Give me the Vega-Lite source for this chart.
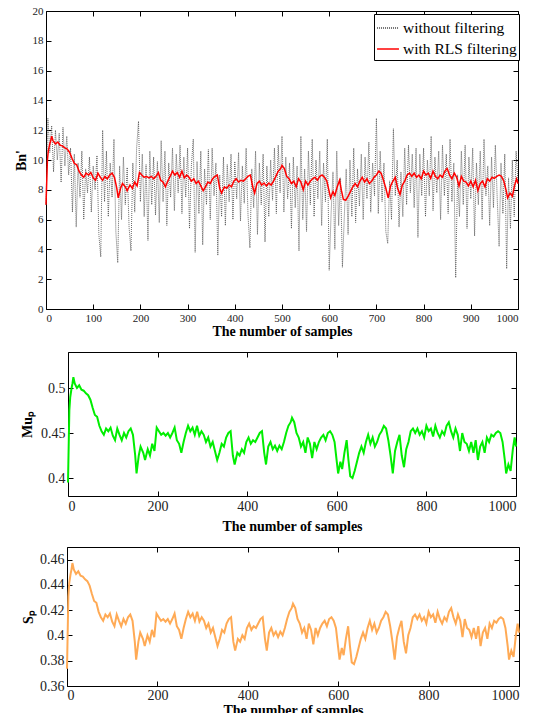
{
  "$schema": "https://vega.github.io/schema/vega-lite/v6.json",
  "background": "white",
  "padding": {"left": 13, "top": 4, "right": 4, "bottom": 0},
  "config": {
    "font": "Liberation Serif, Times New Roman, serif",
    "view": {"stroke": "black", "strokeWidth": 1},
    "axis": {"grid": false, "domain": false, "tickColor": "black", "tickSize": -5, "labelPadding": 8, "labelColor": "#222", "labelFont": "Liberation Serif, Times New Roman, serif", "titleFont": "Liberation Serif, Times New Roman, serif", "titleFontWeight": "bold", "titleColor": "black"},
    "legend": {"labelFont": "Liberation Serif, Times New Roman, serif"},
    "line": {"interpolate": "linear"}
  },
  "datasets": {
    "main": [
      {"x":0,"g":0.395,"r":7.0,"o":0.3737},{"x":3,"g":0.475,"r":9.99,"o":0.4309},{"x":5,"g":0.49,"r":10.64,"o":0.4416},{"x":8,"g":0.5,"r":11.08,"o":0.4487},{"x":10,"g":0.505,"r":11.29,"o":0.4523},{"x":12,"g":0.512,"r":11.6,"o":0.4573},{"x":15,"g":0.505,"r":11.29,"o":0.4523},{"x":20,"g":0.5,"r":11.08,"o":0.4487},{"x":25,"g":0.503,"r":11.21,"o":0.4508},{"x":30,"g":0.498,"r":10.99,"o":0.4473},{"x":35,"g":0.497,"r":10.94,"o":0.4466},{"x":40,"g":0.494,"r":10.81,"o":0.4444},{"x":45,"g":0.492,"r":10.73,"o":0.443},{"x":50,"g":0.487,"r":10.51,"o":0.4394},{"x":55,"g":0.478,"r":10.12,"o":0.433},{"x":60,"g":0.47,"r":9.77,"o":0.4273},{"x":65,"g":0.468,"r":9.68,"o":0.4259},{"x":70,"g":0.458,"r":9.25,"o":0.4187},{"x":75,"g":0.452,"r":8.99,"o":0.4144},{"x":80,"g":0.448,"r":8.84,"o":0.4116},{"x":85,"g":0.455,"r":9.12,"o":0.4166},{"x":90,"g":0.452,"r":8.99,"o":0.4144},{"x":95,"g":0.456,"r":9.16,"o":0.4173},{"x":100,"g":0.447,"r":8.8,"o":0.4109},{"x":105,"g":0.442,"r":8.64,"o":0.4073},{"x":110,"g":0.455,"r":9.12,"o":0.4166},{"x":115,"g":0.448,"r":8.84,"o":0.4116},{"x":120,"g":0.442,"r":8.64,"o":0.4073},{"x":125,"g":0.45,"r":8.9,"o":0.413},{"x":130,"g":0.445,"r":8.74,"o":0.4094},{"x":135,"g":0.452,"r":8.99,"o":0.4144},{"x":140,"g":0.455,"r":9.12,"o":0.4166},{"x":145,"g":0.448,"r":8.84,"o":0.4116},{"x":150,"g":0.425,"r":8.1,"o":0.3951},{"x":153,"g":0.405,"r":7.46,"o":0.3809},{"x":158,"g":0.425,"r":8.1,"o":0.3951},{"x":162,"g":0.435,"r":8.42,"o":0.4023},{"x":168,"g":0.428,"r":8.2,"o":0.3973},{"x":172,"g":0.42,"r":7.94,"o":0.3916},{"x":178,"g":0.432,"r":8.32,"o":0.4001},{"x":183,"g":0.425,"r":8.1,"o":0.3951},{"x":188,"g":0.438,"r":8.52,"o":0.4044},{"x":193,"g":0.43,"r":8.26,"o":0.3987},{"x":198,"g":0.456,"r":9.16,"o":0.4173},{"x":203,"g":0.452,"r":8.99,"o":0.4144},{"x":208,"g":0.448,"r":8.84,"o":0.4116},{"x":213,"g":0.45,"r":8.9,"o":0.413},{"x":218,"g":0.447,"r":8.8,"o":0.4109},{"x":223,"g":0.45,"r":8.9,"o":0.413},{"x":228,"g":0.445,"r":8.74,"o":0.4094},{"x":233,"g":0.45,"r":8.9,"o":0.413},{"x":238,"g":0.456,"r":9.16,"o":0.4173},{"x":243,"g":0.442,"r":8.64,"o":0.4073},{"x":248,"g":0.438,"r":8.52,"o":0.4044},{"x":253,"g":0.428,"r":8.2,"o":0.3973},{"x":258,"g":0.44,"r":8.58,"o":0.4059},{"x":263,"g":0.45,"r":8.9,"o":0.413},{"x":268,"g":0.458,"r":9.25,"o":0.4187},{"x":273,"g":0.452,"r":8.99,"o":0.4144},{"x":278,"g":0.456,"r":9.16,"o":0.4173},{"x":283,"g":0.448,"r":8.84,"o":0.4116},{"x":288,"g":0.458,"r":9.25,"o":0.4187},{"x":293,"g":0.447,"r":8.8,"o":0.4109},{"x":298,"g":0.452,"r":8.99,"o":0.4144},{"x":303,"g":0.448,"r":8.84,"o":0.4116},{"x":308,"g":0.44,"r":8.58,"o":0.4059},{"x":313,"g":0.445,"r":8.74,"o":0.4094},{"x":318,"g":0.435,"r":8.42,"o":0.4023},{"x":323,"g":0.44,"r":8.58,"o":0.4059},{"x":328,"g":0.43,"r":8.26,"o":0.3987},{"x":333,"g":0.42,"r":7.94,"o":0.3916},{"x":338,"g":0.428,"r":8.2,"o":0.3973},{"x":343,"g":0.438,"r":8.52,"o":0.4044},{"x":348,"g":0.435,"r":8.42,"o":0.4023},{"x":353,"g":0.445,"r":8.74,"o":0.4094},{"x":358,"g":0.45,"r":8.9,"o":0.413},{"x":363,"g":0.452,"r":8.99,"o":0.4144},{"x":368,"g":0.425,"r":8.1,"o":0.3951},{"x":372,"g":0.415,"r":7.78,"o":0.388},{"x":378,"g":0.428,"r":8.2,"o":0.3973},{"x":383,"g":0.425,"r":8.1,"o":0.3951},{"x":388,"g":0.432,"r":8.32,"o":0.4001},{"x":393,"g":0.428,"r":8.2,"o":0.3973},{"x":398,"g":0.44,"r":8.58,"o":0.4059},{"x":403,"g":0.445,"r":8.74,"o":0.4094},{"x":408,"g":0.438,"r":8.52,"o":0.4044},{"x":413,"g":0.442,"r":8.64,"o":0.4073},{"x":418,"g":0.44,"r":8.58,"o":0.4059},{"x":423,"g":0.445,"r":8.74,"o":0.4094},{"x":428,"g":0.45,"r":8.9,"o":0.413},{"x":433,"g":0.452,"r":8.99,"o":0.4144},{"x":438,"g":0.428,"r":8.2,"o":0.3973},{"x":442,"g":0.415,"r":7.78,"o":0.388},{"x":447,"g":0.435,"r":8.42,"o":0.4023},{"x":452,"g":0.44,"r":8.58,"o":0.4059},{"x":457,"g":0.432,"r":8.32,"o":0.4001},{"x":462,"g":0.436,"r":8.45,"o":0.403},{"x":467,"g":0.43,"r":8.26,"o":0.3987},{"x":472,"g":0.436,"r":8.45,"o":0.403},{"x":477,"g":0.432,"r":8.32,"o":0.4001},{"x":482,"g":0.44,"r":8.58,"o":0.4059},{"x":487,"g":0.45,"r":8.9,"o":0.413},{"x":492,"g":0.458,"r":9.25,"o":0.4187},{"x":497,"g":0.462,"r":9.42,"o":0.4216},{"x":500,"g":0.467,"r":9.64,"o":0.4251},{"x":505,"g":0.462,"r":9.42,"o":0.4216},{"x":510,"g":0.45,"r":8.9,"o":0.413},{"x":515,"g":0.445,"r":8.74,"o":0.4094},{"x":520,"g":0.435,"r":8.42,"o":0.4023},{"x":525,"g":0.44,"r":8.58,"o":0.4059},{"x":530,"g":0.428,"r":8.2,"o":0.3973},{"x":535,"g":0.445,"r":8.74,"o":0.4094},{"x":540,"g":0.438,"r":8.52,"o":0.4044},{"x":545,"g":0.422,"r":8.0,"o":0.393},{"x":550,"g":0.44,"r":8.58,"o":0.4059},{"x":555,"g":0.432,"r":8.32,"o":0.4001},{"x":560,"g":0.44,"r":8.58,"o":0.4059},{"x":565,"g":0.445,"r":8.74,"o":0.4094},{"x":570,"g":0.448,"r":8.84,"o":0.4116},{"x":575,"g":0.442,"r":8.64,"o":0.4073},{"x":580,"g":0.45,"r":8.9,"o":0.413},{"x":585,"g":0.452,"r":8.99,"o":0.4144},{"x":590,"g":0.448,"r":8.84,"o":0.4116},{"x":595,"g":0.44,"r":8.58,"o":0.4059},{"x":600,"g":0.418,"r":7.88,"o":0.3901},{"x":603,"g":0.405,"r":7.46,"o":0.3809},{"x":608,"g":0.418,"r":7.88,"o":0.3901},{"x":612,"g":0.41,"r":7.62,"o":0.3844},{"x":617,"g":0.428,"r":8.2,"o":0.3973},{"x":622,"g":0.442,"r":8.64,"o":0.4073},{"x":626,"g":0.42,"r":7.94,"o":0.3916},{"x":630,"g":0.402,"r":7.36,"o":0.3787},{"x":635,"g":0.4,"r":7.3,"o":0.3773},{"x":640,"g":0.408,"r":7.56,"o":0.383},{"x":645,"g":0.418,"r":7.88,"o":0.3901},{"x":650,"g":0.428,"r":8.2,"o":0.3973},{"x":655,"g":0.435,"r":8.42,"o":0.4023},{"x":660,"g":0.428,"r":8.2,"o":0.3973},{"x":665,"g":0.44,"r":8.58,"o":0.4059},{"x":670,"g":0.448,"r":8.84,"o":0.4116},{"x":675,"g":0.438,"r":8.52,"o":0.4044},{"x":680,"g":0.445,"r":8.74,"o":0.4094},{"x":685,"g":0.435,"r":8.42,"o":0.4023},{"x":690,"g":0.44,"r":8.58,"o":0.4059},{"x":695,"g":0.448,"r":8.84,"o":0.4116},{"x":700,"g":0.452,"r":8.99,"o":0.4144},{"x":705,"g":0.458,"r":9.25,"o":0.4187},{"x":710,"g":0.455,"r":9.12,"o":0.4166},{"x":715,"g":0.442,"r":8.64,"o":0.4073},{"x":720,"g":0.425,"r":8.1,"o":0.3951},{"x":725,"g":0.405,"r":7.46,"o":0.3809},{"x":730,"g":0.43,"r":8.26,"o":0.3987},{"x":735,"g":0.44,"r":8.58,"o":0.4059},{"x":740,"g":0.448,"r":8.84,"o":0.4116},{"x":745,"g":0.425,"r":8.1,"o":0.3951},{"x":750,"g":0.412,"r":7.68,"o":0.3859},{"x":755,"g":0.432,"r":8.32,"o":0.4001},{"x":760,"g":0.44,"r":8.58,"o":0.4059},{"x":765,"g":0.452,"r":8.99,"o":0.4144},{"x":770,"g":0.455,"r":9.12,"o":0.4166},{"x":775,"g":0.45,"r":8.9,"o":0.413},{"x":780,"g":0.455,"r":9.12,"o":0.4166},{"x":785,"g":0.448,"r":8.84,"o":0.4116},{"x":790,"g":0.452,"r":8.99,"o":0.4144},{"x":795,"g":0.445,"r":8.74,"o":0.4094},{"x":800,"g":0.458,"r":9.25,"o":0.4187},{"x":805,"g":0.452,"r":8.99,"o":0.4144},{"x":810,"g":0.455,"r":9.12,"o":0.4166},{"x":815,"g":0.446,"r":8.77,"o":0.4101},{"x":820,"g":0.458,"r":9.25,"o":0.4187},{"x":825,"g":0.45,"r":8.9,"o":0.413},{"x":830,"g":0.445,"r":8.74,"o":0.4094},{"x":835,"g":0.452,"r":8.99,"o":0.4144},{"x":840,"g":0.448,"r":8.84,"o":0.4116},{"x":845,"g":0.458,"r":9.25,"o":0.4187},{"x":850,"g":0.462,"r":9.42,"o":0.4216},{"x":855,"g":0.452,"r":8.99,"o":0.4144},{"x":860,"g":0.445,"r":8.74,"o":0.4094},{"x":865,"g":0.455,"r":9.12,"o":0.4166},{"x":870,"g":0.448,"r":8.84,"o":0.4116},{"x":875,"g":0.43,"r":8.26,"o":0.3987},{"x":880,"g":0.45,"r":8.9,"o":0.413},{"x":885,"g":0.44,"r":8.58,"o":0.4059},{"x":890,"g":0.438,"r":8.52,"o":0.4044},{"x":895,"g":0.43,"r":8.26,"o":0.3987},{"x":900,"g":0.44,"r":8.58,"o":0.4059},{"x":905,"g":0.428,"r":8.2,"o":0.3973},{"x":910,"g":0.442,"r":8.64,"o":0.4073},{"x":915,"g":0.42,"r":7.94,"o":0.3916},{"x":920,"g":0.435,"r":8.42,"o":0.4023},{"x":925,"g":0.44,"r":8.58,"o":0.4059},{"x":930,"g":0.428,"r":8.2,"o":0.3973},{"x":935,"g":0.445,"r":8.74,"o":0.4094},{"x":940,"g":0.44,"r":8.58,"o":0.4059},{"x":945,"g":0.448,"r":8.84,"o":0.4116},{"x":950,"g":0.446,"r":8.77,"o":0.4101},{"x":955,"g":0.45,"r":8.9,"o":0.413},{"x":960,"g":0.452,"r":8.99,"o":0.4144},{"x":965,"g":0.45,"r":8.9,"o":0.413},{"x":970,"g":0.44,"r":8.58,"o":0.4059},{"x":975,"g":0.42,"r":7.94,"o":0.3916},{"x":978,"g":0.405,"r":7.46,"o":0.3809},{"x":983,"g":0.415,"r":7.78,"o":0.388},{"x":988,"g":0.408,"r":7.56,"o":0.383},{"x":993,"g":0.432,"r":8.32,"o":0.4001},{"x":997,"g":0.445,"r":8.74,"o":0.4094},{"x":1000,"g":0.435,"r":8.42,"o":0.4023}
    ],
    "gray": [
      {"x":0,"v":7.0},{"x":4,"v":12.8},{"x":8,"v":10.5},{"x":12,"v":12.3},{"x":16,"v":9.2},{"x":20,"v":12.0},{"x":24,"v":10.0},{"x":28,"v":11.8},{"x":32,"v":8.5},{"x":36,"v":12.2},{"x":40,"v":9.6},{"x":44,"v":11.6},{"x":48,"v":9.0},{"x":52,"v":10.8},{"x":56,"v":6.5},{"x":60,"v":10.4},{"x":64,"v":5.5},{"x":68,"v":9.8},{"x":72,"v":7.5},{"x":76,"v":10.6},{"x":80,"v":6.0},{"x":84,"v":9.4},{"x":88,"v":7.8},{"x":92,"v":10.2},{"x":96,"v":6.5},{"x":100,"v":9.6},{"x":104,"v":8.0},{"x":108,"v":10.3},{"x":112,"v":5.0},{"x":116,"v":3.5},{"x":120,"v":12.0},{"x":124,"v":7.2},{"x":128,"v":10.6},{"x":132,"v":6.2},{"x":136,"v":9.8},{"x":140,"v":7.5},{"x":144,"v":11.4},{"x":148,"v":5.2},{"x":152,"v":3.1},{"x":156,"v":9.6},{"x":160,"v":6.0},{"x":164,"v":10.2},{"x":168,"v":7.0},{"x":172,"v":9.5},{"x":176,"v":5.5},{"x":180,"v":3.9},{"x":184,"v":9.8},{"x":188,"v":6.5},{"x":192,"v":10.8},{"x":196,"v":12.6},{"x":200,"v":7.2},{"x":204,"v":10.4},{"x":208,"v":6.2},{"x":212,"v":9.7},{"x":216,"v":4.6},{"x":220,"v":10.6},{"x":224,"v":7.0},{"x":228,"v":10.2},{"x":232,"v":6.3},{"x":236,"v":9.9},{"x":240,"v":5.8},{"x":244,"v":11.3},{"x":248,"v":7.2},{"x":252,"v":10.6},{"x":256,"v":5.6},{"x":260,"v":9.8},{"x":264,"v":7.5},{"x":268,"v":10.8},{"x":272,"v":6.6},{"x":276,"v":10.4},{"x":280,"v":7.8},{"x":284,"v":11.0},{"x":288,"v":6.4},{"x":292,"v":10.2},{"x":296,"v":7.5},{"x":300,"v":10.8},{"x":304,"v":5.4},{"x":308,"v":9.6},{"x":312,"v":11.4},{"x":316,"v":3.8},{"x":320,"v":9.9},{"x":324,"v":6.4},{"x":328,"v":10.6},{"x":332,"v":4.3},{"x":336,"v":9.4},{"x":340,"v":7.0},{"x":344,"v":10.7},{"x":348,"v":6.0},{"x":352,"v":10.8},{"x":356,"v":7.6},{"x":360,"v":9.8},{"x":364,"v":3.6},{"x":368,"v":9.0},{"x":372,"v":6.2},{"x":376,"v":10.2},{"x":380,"v":5.6},{"x":384,"v":9.7},{"x":388,"v":7.2},{"x":392,"v":10.4},{"x":396,"v":6.0},{"x":400,"v":9.9},{"x":404,"v":7.4},{"x":408,"v":10.5},{"x":412,"v":5.9},{"x":416,"v":9.6},{"x":420,"v":7.1},{"x":424,"v":10.8},{"x":428,"v":6.3},{"x":432,"v":4.1},{"x":436,"v":9.4},{"x":440,"v":6.8},{"x":444,"v":10.6},{"x":448,"v":5.0},{"x":452,"v":9.8},{"x":456,"v":7.0},{"x":460,"v":10.4},{"x":464,"v":4.5},{"x":468,"v":9.6},{"x":472,"v":6.2},{"x":476,"v":10.0},{"x":480,"v":7.3},{"x":484,"v":10.8},{"x":488,"v":6.4},{"x":492,"v":11.0},{"x":496,"v":7.8},{"x":500,"v":11.6},{"x":504,"v":6.5},{"x":508,"v":10.2},{"x":512,"v":7.4},{"x":516,"v":9.8},{"x":520,"v":5.4},{"x":524,"v":10.2},{"x":528,"v":6.8},{"x":532,"v":9.6},{"x":536,"v":3.9},{"x":540,"v":11.6},{"x":544,"v":6.0},{"x":548,"v":9.4},{"x":552,"v":5.2},{"x":556,"v":10.6},{"x":560,"v":7.0},{"x":564,"v":11.4},{"x":568,"v":6.2},{"x":572,"v":10.0},{"x":576,"v":7.4},{"x":580,"v":10.6},{"x":584,"v":5.6},{"x":588,"v":9.8},{"x":592,"v":7.2},{"x":596,"v":11.4},{"x":600,"v":2.6},{"x":604,"v":6.4},{"x":608,"v":9.2},{"x":612,"v":4.0},{"x":616,"v":10.6},{"x":620,"v":5.6},{"x":624,"v":8.8},{"x":628,"v":2.8},{"x":632,"v":6.2},{"x":636,"v":9.4},{"x":640,"v":5.0},{"x":644,"v":10.0},{"x":648,"v":6.2},{"x":652,"v":10.8},{"x":656,"v":5.8},{"x":660,"v":9.4},{"x":664,"v":6.9},{"x":668,"v":10.4},{"x":672,"v":6.0},{"x":676,"v":10.2},{"x":680,"v":7.4},{"x":684,"v":11.2},{"x":688,"v":6.5},{"x":692,"v":9.8},{"x":696,"v":7.6},{"x":700,"v":12.8},{"x":704,"v":6.4},{"x":708,"v":10.6},{"x":712,"v":7.2},{"x":716,"v":9.8},{"x":720,"v":5.2},{"x":724,"v":4.4},{"x":728,"v":8.6},{"x":732,"v":6.0},{"x":736,"v":12.1},{"x":740,"v":7.6},{"x":744,"v":10.0},{"x":748,"v":5.5},{"x":752,"v":9.2},{"x":756,"v":6.2},{"x":760,"v":10.8},{"x":764,"v":7.0},{"x":768,"v":11.0},{"x":772,"v":7.8},{"x":776,"v":10.4},{"x":780,"v":6.8},{"x":784,"v":10.8},{"x":788,"v":4.8},{"x":792,"v":10.4},{"x":796,"v":7.6},{"x":800,"v":10.8},{"x":804,"v":6.2},{"x":808,"v":10.0},{"x":812,"v":7.6},{"x":816,"v":11.6},{"x":820,"v":6.6},{"x":824,"v":10.2},{"x":828,"v":7.8},{"x":832,"v":10.6},{"x":836,"v":6.0},{"x":840,"v":11.0},{"x":844,"v":7.6},{"x":848,"v":10.4},{"x":852,"v":6.4},{"x":856,"v":11.4},{"x":860,"v":7.2},{"x":864,"v":9.8},{"x":868,"v":2.1},{"x":872,"v":9.0},{"x":876,"v":6.2},{"x":880,"v":10.6},{"x":884,"v":7.0},{"x":888,"v":11.0},{"x":892,"v":5.4},{"x":896,"v":10.2},{"x":900,"v":7.4},{"x":904,"v":10.8},{"x":908,"v":4.9},{"x":912,"v":9.8},{"x":916,"v":7.0},{"x":920,"v":10.6},{"x":924,"v":6.0},{"x":928,"v":11.4},{"x":932,"v":7.6},{"x":936,"v":9.6},{"x":940,"v":5.6},{"x":944,"v":10.2},{"x":948,"v":6.8},{"x":952,"v":11.0},{"x":956,"v":7.4},{"x":960,"v":4.2},{"x":964,"v":9.8},{"x":968,"v":6.4},{"x":972,"v":10.4},{"x":976,"v":2.7},{"x":980,"v":8.8},{"x":984,"v":5.4},{"x":988,"v":10.0},{"x":992,"v":6.2},{"x":996,"v":10.6},{"x":1000,"v":8.4}
    ]
  },
  "columns": 1,
  "spacing": 12,
  "concat": [
    {
      "width": 472,
      "height": 298,
      "layer": [
        {
          "data": {"name": "gray"},
          "mark": {"type": "line", "strokeWidth": 0.8},
          "encoding": {
            "x": {"field": "x", "type": "quantitative", "scale": {"domain": [0, 1000], "nice": false}, "axis": {"orient": "bottom", "values": [0,100,200,300,400,500,600,700,800,900,1000], "format": "d", "title": "The number of samples", "labelFontSize": 11, "titleFontSize": 14, "titlePadding": 1}},
            "y": {"field": "v", "type": "quantitative", "scale": {"domain": [0, 20], "nice": false}, "axis": {"orient": "left", "values": [0,2,4,6,8,10,12,14,16,18,20], "title": "Bn'", "labelFontSize": 11, "titleFontSize": 14, "titlePadding": 4}},
            "color": {"datum": "without filtering", "type": "nominal", "scale": {"domain": ["without filtering", "with RLS filtering"], "range": ["#444444", "#ff0000"]}, "legend": {"title": null, "orient": "none", "legendX": 328, "legendY": 3, "symbolType": "stroke", "symbolSize": 480, "symbolStrokeWidth": 1.3, "labelFontSize": 15.5, "labelOffset": 3, "labelColor": "black", "strokeColor": "black", "fillColor": "white", "padding": 2, "rowPadding": 0}},
            "strokeDash": {"datum": "without filtering", "type": "nominal", "scale": {"domain": ["without filtering", "with RLS filtering"], "range": [[1, 1], [1, 0]]}, "legend": {"title": null, "orient": "none", "legendX": 328, "legendY": 3, "symbolType": "stroke", "symbolSize": 480, "symbolStrokeWidth": 1.3, "labelFontSize": 15.5, "labelOffset": 3, "labelColor": "black", "strokeColor": "black", "fillColor": "white", "padding": 2, "rowPadding": 0}}
          }
        },
        {
          "data": {"name": "main"},
          "mark": {"type": "line", "strokeWidth": 1.5},
          "encoding": {
            "x": {"field": "x", "type": "quantitative", "axis": null},
            "y": {"field": "r", "type": "quantitative", "axis": null},
            "color": {"datum": "with RLS filtering", "type": "nominal"},
            "strokeDash": {"datum": "with RLS filtering", "type": "nominal"}
          }
        },
        {
          "data": {"name": "main"},
          "mark": {"type": "line", "opacity": 0},
          "encoding": {
            "x": {"field": "x", "type": "quantitative", "axis": {"orient": "top", "values": [0,100,200,300,400,500,600,700,800,900,1000], "labels": false, "title": null}},
            "y": {"field": "r", "type": "quantitative", "axis": {"orient": "right", "values": [0,2,4,6,8,10,12,14,16,18,20], "labels": false, "title": null}}
          }
        }
      ]
    },
    {
      "spacing": 0,
      "bounds": "flush",
      "hconcat": [
        {
          "width": 22,
          "height": 10,
          "view": {"stroke": null},
          "data": {"values": [{"a": 0}]},
          "mark": {"type": "point", "opacity": 0}
        },
        {
          "width": 448,
          "height": 144,
          "data": {"name": "main"},
          "layer": [
            {
              "mark": {"type": "line", "color": "#00ee00", "strokeWidth": 2},
              "encoding": {
                "x": {"field": "x", "type": "quantitative", "scale": {"domain": [0, 1000], "nice": false}, "axis": {"orient": "bottom", "values": [0,200,400,600,800,1000], "format": "d", "title": "The number of samples", "labelFontSize": 14, "titleFontSize": 14, "titlePadding": 6}},
                "y": {"field": "g", "type": "quantitative", "scale": {"domain": [0.38, 0.54], "nice": false}, "axis": {"orient": "left", "values": [0.4, 0.45, 0.5], "format": "~g", "title": "Muₚ", "labelFontSize": 14, "titleFontSize": 14, "titlePadding": 6}}
              }
            },
            {
              "mark": {"type": "line", "opacity": 0},
              "encoding": {
                "x": {"field": "x", "type": "quantitative", "axis": {"orient": "top", "values": [0,200,400,600,800,1000], "labels": false, "title": null}},
                "y": {"field": "g", "type": "quantitative", "axis": {"orient": "right", "values": [0.4, 0.45, 0.5], "labels": false, "title": null}}
              }
            }
          ]
        }
      ]
    },
    {
      "spacing": 0,
      "bounds": "flush",
      "hconcat": [
        {
          "width": 21,
          "height": 10,
          "view": {"stroke": null},
          "data": {"values": [{"a": 0}]},
          "mark": {"type": "point", "opacity": 0}
        },
        {
          "width": 452,
          "height": 139,
          "data": {"name": "main"},
          "layer": [
            {
              "mark": {"type": "line", "color": "#ffaa55", "strokeWidth": 2},
              "encoding": {
                "x": {"field": "x", "type": "quantitative", "scale": {"domain": [0, 1000], "nice": false}, "axis": {"orient": "bottom", "values": [0,200,400,600,800,1000], "format": "d", "title": "The number of samples", "labelFontSize": 14, "labelPadding": 7, "titleFontSize": 14, "titlePadding": 1}},
                "y": {"field": "o", "type": "quantitative", "scale": {"domain": [0.36, 0.47], "nice": false}, "axis": {"orient": "left", "values": [0.36, 0.38, 0.4, 0.42, 0.44, 0.46], "format": "~g", "title": "Sₚ", "labelFontSize": 14, "titleFontSize": 14, "titlePadding": 4}}
              }
            },
            {
              "mark": {"type": "line", "opacity": 0},
              "encoding": {
                "x": {"field": "x", "type": "quantitative", "axis": {"orient": "top", "values": [0,200,400,600,800,1000], "labels": false, "title": null}},
                "y": {"field": "o", "type": "quantitative", "axis": {"orient": "right", "values": [0.36, 0.38, 0.4, 0.42, 0.44, 0.46], "labels": false, "title": null}}
              }
            }
          ]
        }
      ]
    }
  ]
}
